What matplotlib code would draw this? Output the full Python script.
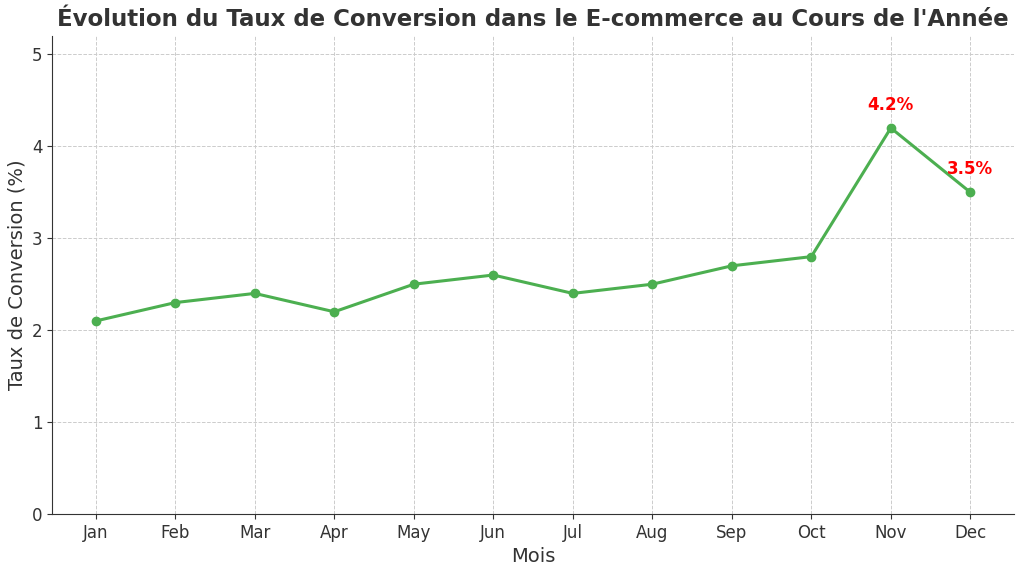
import matplotlib
matplotlib.use("Agg")
import matplotlib.pyplot as plt

months = ["Jan", "Feb", "Mar", "Apr", "May", "Jun", "Jul", "Aug", "Sep", "Oct", "Nov", "Dec"]
conversion = [2.1, 2.3, 2.4, 2.2, 2.5, 2.6, 2.4, 2.5, 2.7, 2.8, 4.2, 3.5]
highlight = {"Nov": "4.2%", "Dec": "3.5%"}

fig = plt.figure(figsize=(10.24, 5.72), dpi=100)
ax = fig.add_axes([0.0508, 0.1014, 0.9395, 0.8356])

x = list(range(len(months)))
ax.plot(x, conversion, color="#4CAF50", linewidth=2.2, marker="o", markersize=6)

for i, m in enumerate(months):
    if m in highlight:
        ax.annotate(highlight[m], (x[i], conversion[i]), textcoords="offset points",
                    xytext=(0, 10), ha="center", va="bottom", color="red",
                    fontsize=12, fontweight="bold")

ax.set_xticks(x)
ax.set_xticklabels(months)
ax.set_xlim(-0.55, 11.55)
ax.set_ylim(0, 5.2)
ax.set_yticks([0, 1, 2, 3, 4, 5])
ax.tick_params(labelsize=12, colors="#333333")
ax.grid(True, linestyle="--", color="#cccccc", linewidth=0.7)
ax.set_axisbelow(True)
for s in ["top", "right"]:
    ax.spines[s].set_visible(False)
for s in ["left", "bottom"]:
    ax.spines[s].set_color("#333333")

ax.set_xlabel("Mois", fontsize=14, color="#333333")
ax.set_ylabel("Taux de Conversion (%)", fontsize=14, color="#333333")
ax.set_title("Évolution du Taux de Conversion dans le E-commerce au Cours de l'Année",
             fontsize=16.5, fontweight="bold", color="#333333", pad=7)

fig.savefig("out.png", dpi=100)
